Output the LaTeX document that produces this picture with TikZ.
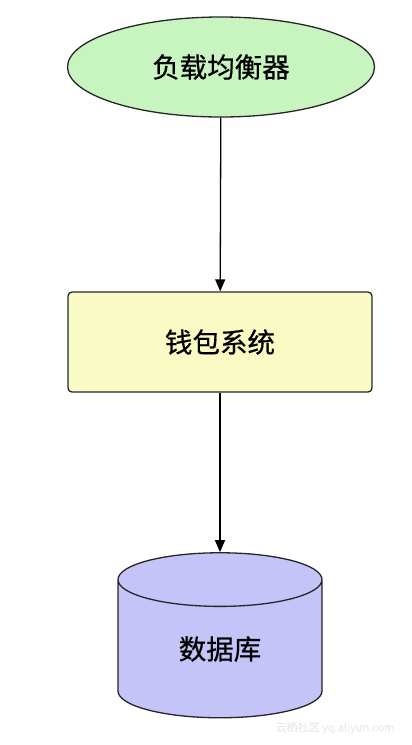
\documentclass[tikz,border=0pt]{standalone}
\usepackage{fontspec}
\usepackage{tikz}
\usetikzlibrary{shapes.geometric,arrows.meta}
\newfontfamily\cjk[FakeBold=0.6]{Noto Sans CJK SC}
\definecolor{lbGreen}{HTML}{C8F4C0}
\definecolor{wsYellow}{HTML}{FAFAC4}
\definecolor{dbBlue}{HTML}{C4C4F8}
\colorlet{edge}{black!85}

\begin{document}
\begin{tikzpicture}[x=1pt,y=-1pt,
  line width=1.3pt,
  lbl/.style={font=\cjk\fontsize{27.5}{30}\selectfont},
  flow/.style={-{Triangle[length=12pt,width=10pt]}, line width=1.3pt}]
\useasboundingbox (0,0) rectangle (412,745);
\node[ellipse, draw=edge, fill=lbGreen, minimum width=307pt, minimum height=100pt, inner sep=0pt, lbl] (lb) at (221,67) {负载均衡器};
\node[rectangle, rounded corners=4pt, draw=edge, fill=wsYellow, minimum width=304pt, minimum height=100pt, inner sep=0pt, lbl] (wallet) at (220,342) {钱包系统};
\node[cylinder, shape border rotate=90, aspect=0.65, draw=edge, fill=dbBlue, minimum width=204pt, minimum height=165pt, inner sep=0pt, lbl] (db) at (220,649) {数据库};
\draw[flow] (lb) -- (wallet);
\draw[flow] (wallet) -- (db.top);
\node[font=\cjk\fontsize{11}{12}\selectfont, text=black!8] (mark) at (335,728) {云栖社区 yq.aliyun.com};
\end{tikzpicture}
\end{document}
